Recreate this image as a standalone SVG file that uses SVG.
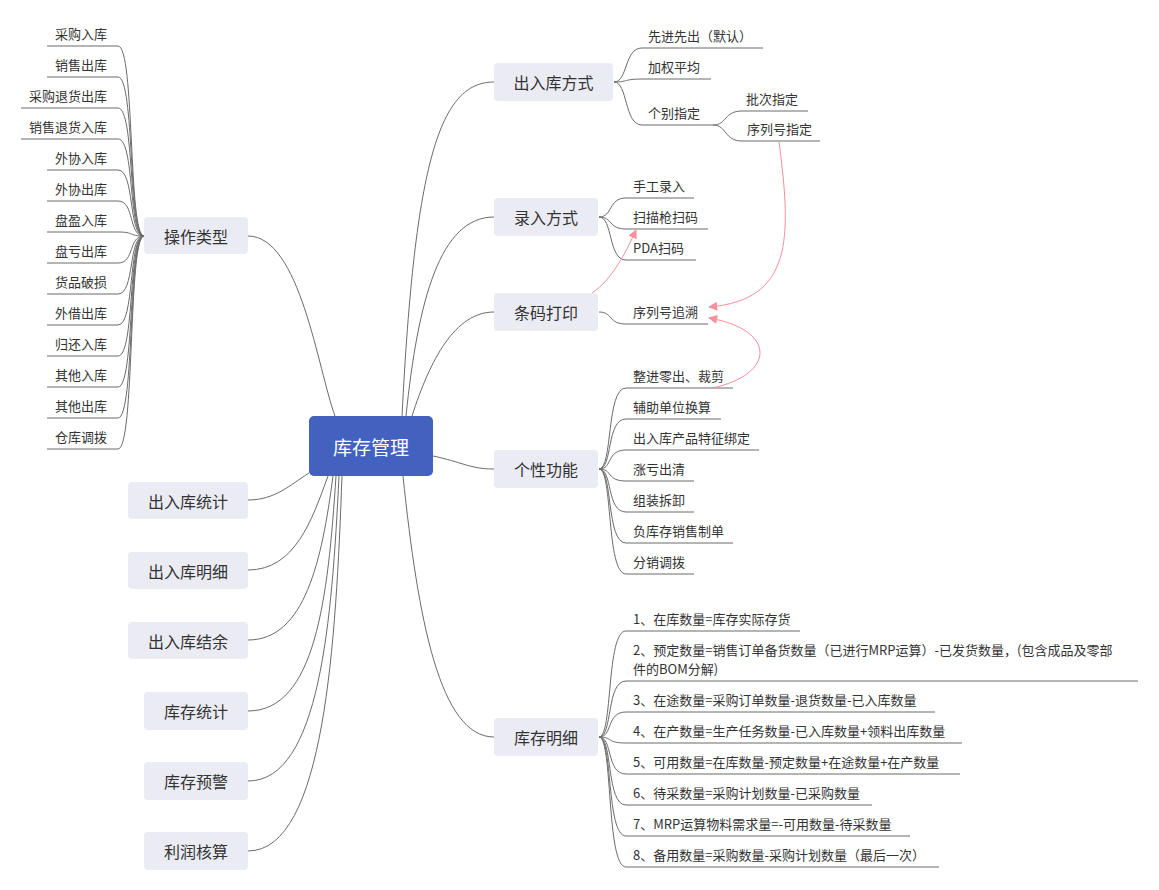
<svg xmlns="http://www.w3.org/2000/svg" width="1159" height="890" viewBox="0 0 1159 890">
<defs>
<style>
.bg{fill:#ffffff}
.node rect{fill:#EAEBF3}
.node text{font-family:"Noto Sans CJK SC",sans-serif;font-size:16px;fill:#333333;text-anchor:middle;dominant-baseline:central}
.root rect{fill:#4361BE}
.root text{font-family:"Noto Sans CJK SC",sans-serif;font-size:19px;fill:#ffffff;text-anchor:middle;dominant-baseline:central}
.lbl{font-family:"Noto Sans CJK SC",sans-serif;font-size:13px;fill:#333333}
.lblr{font-family:"Noto Sans CJK SC",sans-serif;font-size:13px;fill:#333333;text-anchor:end}
.ln{fill:none;stroke:#6b6b6b;stroke-width:1}
.rel{fill:none;stroke:#F0919B;stroke-width:1}
</style>
<marker id="arr" viewBox="0 0 10 10" refX="9" refY="5" markerWidth="10" markerHeight="9" markerUnits="userSpaceOnUse" orient="auto">
<path d="M0,0 L10,5 L0,10 Z" fill="#F0919B"/>
</marker>
</defs>
<rect class="bg" x="0" y="0" width="1159" height="890"/>

<g id="connectors">
<!-- root to main -->
<path class="ln" d="M248,236 C300,236 318,370 335,416"/>
<path class="ln" d="M494,82 C440,82 415,160 402,416"/>
<path class="ln" d="M494,217 C440,217 418,300 406,416"/>
<path class="ln" d="M494,312 C455,312 430,360 412,416"/>
<path class="ln" d="M433,456 C462,462 470,469 494,469"/>
<path class="ln" d="M403,476 C418,620 440,737 494,737"/>
<path class="ln" d="M248,500 C275,500 290,485 309,473"/>
<path class="ln" d="M248,570 C295,570 312,520 328,476"/>
<path class="ln" d="M248,640 C305,640 322,560 333,476"/>
<path class="ln" d="M248,711 C315,711 328,600 336,476"/>
<path class="ln" d="M248,781 C320,781 332,620 339,476"/>
<path class="ln" d="M248,851 C325,851 336,640 342,476"/>
<!-- 操作类型 children -->
<path class="ln" d="M47,46 H118 C135,46 128,236 144,236"/>
<path class="ln" d="M47,77 H118 C135,77 128,236 144,236"/>
<path class="ln" d="M21,108 H118 C135,108 128,236 144,236"/>
<path class="ln" d="M21,139 H118 C135,139 128,236 144,236"/>
<path class="ln" d="M47,170 H118 C135,170 128,236 144,236"/>
<path class="ln" d="M47,201 H118 C135,201 128,236 144,236"/>
<path class="ln" d="M47,232 H118 C135,232 128,236 144,236"/>
<path class="ln" d="M47,263 H118 C135,263 128,236 144,236"/>
<path class="ln" d="M47,294 H118 C135,294 128,236 144,236"/>
<path class="ln" d="M47,325 H118 C135,325 128,236 144,236"/>
<path class="ln" d="M47,356 H118 C135,356 128,236 144,236"/>
<path class="ln" d="M47,387 H118 C135,387 128,236 144,236"/>
<path class="ln" d="M47,418 H118 C135,418 128,236 144,236"/>
<path class="ln" d="M47,449 H118 C135,449 128,236 144,236"/>
<!-- 出入库方式 children -->
<path class="ln" d="M614,82 C628,82 624,48 642,48 H763"/>
<path class="ln" d="M614,82 C628,82 624,79 642,79 H711"/>
<path class="ln" d="M614,82 C628,82 624,125 642,125 H713"/>
<path class="ln" d="M713,125 C727,125 724,111 742,111 H808"/>
<path class="ln" d="M713,125 C727,125 724,141 742,141 H820"/>
<!-- 录入方式 children -->
<path class="ln" d="M599,217 C613,217 608,198 626,198 H694"/>
<path class="ln" d="M599,217 C613,217 608,229 626,229 H708"/>
<path class="ln" d="M599,217 C613,217 608,260 626,260 H696"/>
<!-- 条码打印 child -->
<path class="ln" d="M599,312 C613,312 608,324 626,324 H708"/>
<!-- 个性功能 children -->
<path class="ln" d="M599,469 C613,469 606,388 626,388 H733"/>
<path class="ln" d="M599,469 C613,469 606,419 626,419 H721"/>
<path class="ln" d="M599,469 C613,469 606,450 626,450 H759"/>
<path class="ln" d="M599,469 C613,469 606,481 626,481 H694"/>
<path class="ln" d="M599,469 C613,469 606,512 626,512 H694"/>
<path class="ln" d="M599,469 C613,469 606,543 626,543 H733"/>
<path class="ln" d="M599,469 C613,469 606,574 626,574 H694"/>
<!-- 库存明细 children -->
<path class="ln" d="M599,737 C613,737 606,631 626,631 H800"/>
<path class="ln" d="M599,737 C613,737 606,681 626,681 H1138"/>
<path class="ln" d="M599,737 C613,737 606,712 626,712 H935"/>
<path class="ln" d="M599,737 C613,737 606,743 626,743 H962"/>
<path class="ln" d="M599,737 C613,737 606,774 626,774 H960"/>
<path class="ln" d="M599,737 C613,737 606,805 626,805 H872"/>
<path class="ln" d="M599,737 C613,737 606,836 626,836 H910"/>
<path class="ln" d="M599,737 C613,737 606,867 626,867 H939"/>
<!-- relationships -->
<path class="rel" d="M779,142 C792,240 792,300 709,307" marker-end="url(#arr)"/>
<path class="rel" d="M592,293 C612,280 626,252 636,230" marker-end="url(#arr)"/>
<path class="rel" d="M712,388 C775,375 778,330 709,318" marker-end="url(#arr)"/>
</g>

<g id="root" class="root"><rect x="309" y="416" width="124" height="60" rx="5"/><text x="371" y="446">库存管理</text></g>

<g id="n-czlx" class="node"><rect x="144" y="217" width="104" height="37" rx="4"/><text x="196" y="235.5">操作类型</text></g>
<g id="n-crktj" class="node"><rect x="128" y="482" width="120" height="37" rx="4"/><text x="188" y="500.5">出入库统计</text></g>
<g id="n-crkmx" class="node"><rect x="128" y="552" width="120" height="37" rx="4"/><text x="188" y="570.5">出入库明细</text></g>
<g id="n-crkjy" class="node"><rect x="128" y="622" width="120" height="37" rx="4"/><text x="188" y="640.5">出入库结余</text></g>
<g id="n-kctj" class="node"><rect x="144" y="692" width="104" height="38" rx="4"/><text x="196" y="711">库存统计</text></g>
<g id="n-kcyj" class="node"><rect x="144" y="762" width="104" height="38" rx="4"/><text x="196" y="781">库存预警</text></g>
<g id="n-lrhs" class="node"><rect x="144" y="832" width="104" height="38" rx="4"/><text x="196" y="851">利润核算</text></g>

<g id="n-crkfs" class="node"><rect x="494" y="63" width="119" height="38" rx="4"/><text x="553.5" y="82">出入库方式</text></g>
<g id="n-lrfs" class="node"><rect x="494" y="198" width="104" height="38" rx="4"/><text x="546" y="217">录入方式</text></g>
<g id="n-tmdy" class="node"><rect x="494" y="293" width="104" height="38" rx="4"/><text x="546" y="312">条码打印</text></g>
<g id="n-gxgn" class="node"><rect x="494" y="450" width="104" height="38" rx="4"/><text x="546" y="469">个性功能</text></g>
<g id="n-kcmx" class="node"><rect x="494" y="718" width="104" height="38" rx="4"/><text x="546" y="737">库存明细</text></g>

<g id="labels-czlx">
<text class="lblr" x="107" y="39">采购入库</text>
<text class="lblr" x="107" y="70">销售出库</text>
<text class="lblr" x="107" y="101">采购退货出库</text>
<text class="lblr" x="107" y="132">销售退货入库</text>
<text class="lblr" x="107" y="163">外协入库</text>
<text class="lblr" x="107" y="194">外协出库</text>
<text class="lblr" x="107" y="225">盘盈入库</text>
<text class="lblr" x="107" y="256">盘亏出库</text>
<text class="lblr" x="107" y="287">货品破损</text>
<text class="lblr" x="107" y="318">外借出库</text>
<text class="lblr" x="107" y="349">归还入库</text>
<text class="lblr" x="107" y="380">其他入库</text>
<text class="lblr" x="107" y="411">其他出库</text>
<text class="lblr" x="107" y="442">仓库调拨</text>
</g>
<g id="labels-crkfs">
<text class="lbl" x="648" y="41">先进先出（默认）</text>
<text class="lbl" x="648" y="72">加权平均</text>
<text class="lbl" x="648" y="118">个别指定</text>
<text class="lbl" x="746" y="104">批次指定</text>
<text class="lbl" x="747" y="134">序列号指定</text>
</g>
<g id="labels-lrfs">
<text class="lbl" x="633" y="191">手工录入</text>
<text class="lbl" x="633" y="222">扫描枪扫码</text>
<text class="lbl" x="633" y="253">PDA扫码</text>
<text class="lbl" x="633" y="317">序列号追溯</text>
</g>
<g id="labels-gxgn">
<text class="lbl" x="633" y="381">整进零出、裁剪</text>
<text class="lbl" x="633" y="412">辅助单位换算</text>
<text class="lbl" x="633" y="443">出入库产品特征绑定</text>
<text class="lbl" x="633" y="474">涨亏出清</text>
<text class="lbl" x="633" y="505">组装拆卸</text>
<text class="lbl" x="633" y="536">负库存销售制单</text>
<text class="lbl" x="633" y="567">分销调拨</text>
</g>
<g id="labels-kcmx">
<text class="lbl" x="633" y="624">1、在库数量=库存实际存货</text>
<text class="lbl" x="633" y="655">2、预定数量=销售订单备货数量（已进行MRP运算）-已发货数量，(包含成品及零部</text>
<text class="lbl" x="633" y="674">件的BOM分解)</text>
<text class="lbl" x="633" y="705">3、在途数量=采购订单数量-退货数量-已入库数量</text>
<text class="lbl" x="633" y="736">4、在产数量=生产任务数量-已入库数量+领料出库数量</text>
<text class="lbl" x="633" y="767">5、可用数量=在库数量-预定数量+在途数量+在产数量</text>
<text class="lbl" x="633" y="798">6、待采数量=采购计划数量-已采购数量</text>
<text class="lbl" x="633" y="829">7、MRP运算物料需求量=-可用数量-待采数量</text>
<text class="lbl" x="633" y="860">8、备用数量=采购数量-采购计划数量（最后一次）</text>
</g>
</svg>
